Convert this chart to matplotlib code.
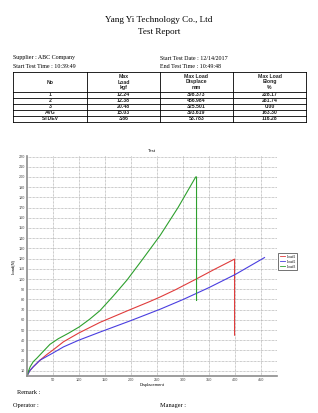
import matplotlib.pyplot as plt
from matplotlib.ticker import MultipleLocator

# report header
title = "Yang Yi Technology Co., Ltd"
subtitle = "Test Report"
info_left = ["Supplier : ABC Company", "Start Test Time : 10:39:49"]
info_right = ["Start Test Date : 12/14/2017", "End Test Time : 10:49:48"]

# result table
col_headers = ["No", "Max\nLoad\nkgf", "Max Load\nDisplace\nmm", "Max Load\nElong\n%"]
row_names = ["1", "2", "3", "AVG", "STDEV"]
max_load = ["12.24", "12.38", "20.48", "15.03", "3.86"]
max_disp = ["398.373", "456.984", "325.501", "393.619", "53.783"]
max_elong = ["228.17", "261.74", "0.00", "163.30", "116.28"]

# curves (displacement, load N)
load1_x = [0, 5, 12, 25, 38, 50, 70, 99, 140, 198, 236, 256, 285, 323, 360, 398.5, 398.5]
load1_y = [5, 10, 14, 20.5, 26, 30.5, 38.5, 47, 57.5, 70, 78, 82.5, 89.5, 99.5, 109.5, 119.5, 45]
load2_x = [0, 5, 12, 25, 48, 70, 99, 140, 198, 256, 300, 349, 400, 456]
load2_y = [5, 10, 14, 20.5, 27, 33.5, 40, 48, 59, 70.5, 80, 91.5, 104.5, 121]
load3_x = [0, 3, 6, 12, 19, 31, 44, 60, 80, 100, 120, 140, 165, 192, 220, 256, 290, 324, 325.5, 325.5]
load3_y = [5, 10, 14, 19, 22.5, 29, 36, 41.5, 47, 53, 60.5, 69, 83, 99, 118, 143, 170, 200, 200, 79]

serif = "Liberation Serif"
sans = "Liberation Sans"

fig = plt.figure(figsize=(3.18, 4.13), dpi=100)

# page overlay in pixel coordinates
page = fig.add_axes([0, 0, 1, 1])
page.set_xlim(0, 318)
page.set_ylim(413, 0)
page.axis("off")

page.text(159, 20, title, ha="center", va="center", family=serif, fontsize=6.6)
page.text(159, 32, subtitle, ha="center", va="center", family=serif, fontsize=6.6)
page.text(13, 58, info_left[0], va="center", family=serif, fontsize=4.3)
page.text(13, 67, info_left[1], va="center", family=serif, fontsize=4.3)
page.text(160, 58, info_right[0], va="center", family=serif, fontsize=4.3)
page.text(160, 67, info_right[1], va="center", family=serif, fontsize=4.3)

cols = [13, 87, 160, 233, 306]
top, head_bot, row_h = 72, 92, 6
bottom = head_bot + row_h * len(row_names)
for x in cols:
    page.plot([x, x], [top, bottom], color="black", lw=0.6)
for y in [top, head_bot] + [head_bot + row_h * (i + 1) for i in range(len(row_names))]:
    page.plot([cols[0], cols[-1]], [y, y], color="black", lw=0.6)
for i, h in enumerate(col_headers):
    page.text((cols[i] + cols[i + 1]) / 2, (top + head_bot) / 2, h, ha="center", va="center",
              family=sans, fontsize=3.7, linespacing=1.1, weight="bold", color="#222222")
for r, vals in enumerate(zip(row_names, max_load, max_disp, max_elong)):
    yc = head_bot + row_h * (r + 0.5)
    for i, v in enumerate(vals):
        page.text((cols[i] + cols[i + 1]) / 2, yc, v, ha="center", va="center",
                  family=sans, fontsize=3.7, weight="bold", color="#222222")

page.text(17, 393, "Remark :", va="center", family=serif, fontsize=4.5)
page.text(13, 405, "Operator :", va="center", family=serif, fontsize=4.5)
page.text(160, 405, "Manager :", va="center", family=serif, fontsize=4.5)

# chart
ax = fig.add_axes([27 / 318, 1 - 376 / 413, 250 / 318, 220 / 413])
ax.plot(load1_x, load1_y, color="#e03c3c", lw=0.8, label="Load1")
ax.plot(load2_x, load2_y, color="#4a3ee0", lw=0.8, label="Load2")
ax.plot(load3_x, load3_y, color="#2ea02e", lw=0.8, label="Load3")
ax.set_xlim(0, 480)
ax.set_ylim(5, 220.5)
ax.set_xticks(list(range(50, 451, 50)))
ax.set_yticks(list(range(10, 221, 10)))
ax.grid(True, color="#9a9a9a", linestyle=(0, (1, 1)), lw=0.5)
ax.tick_params(labelsize=2.7, length=0, pad=1.5, colors="#444444")
for lab in ax.get_xticklabels() + ax.get_yticklabels():
    lab.set_family(sans)
for s in ["top", "right"]:
    ax.spines[s].set_visible(False)
for s in ["left", "bottom"]:
    ax.spines[s].set_color("#8c8c8c")
    ax.spines[s].set_linewidth(1.2)
ax.set_title("Test", fontsize=3.2, family=sans, pad=3)
ax.set_xlabel("Displacement", fontsize=3, family=sans, labelpad=1)
ax.set_ylabel("Load(N)", fontsize=3, family=sans, labelpad=2)
leg = ax.legend(loc="center left", bbox_to_anchor=(1.005, 0.52), prop={"family": serif, "size": 2.6},
                frameon=True, fancybox=False, shadow=False, handlelength=1.6, borderpad=0.35,
                labelspacing=0.25, handletextpad=0.4, borderaxespad=0)
leg.get_frame().set_edgecolor("#333333")
leg.get_frame().set_linewidth(0.6)
for line in leg.get_lines():
    line.set_linewidth(0.6)

fig.savefig("out.png", dpi=100)
